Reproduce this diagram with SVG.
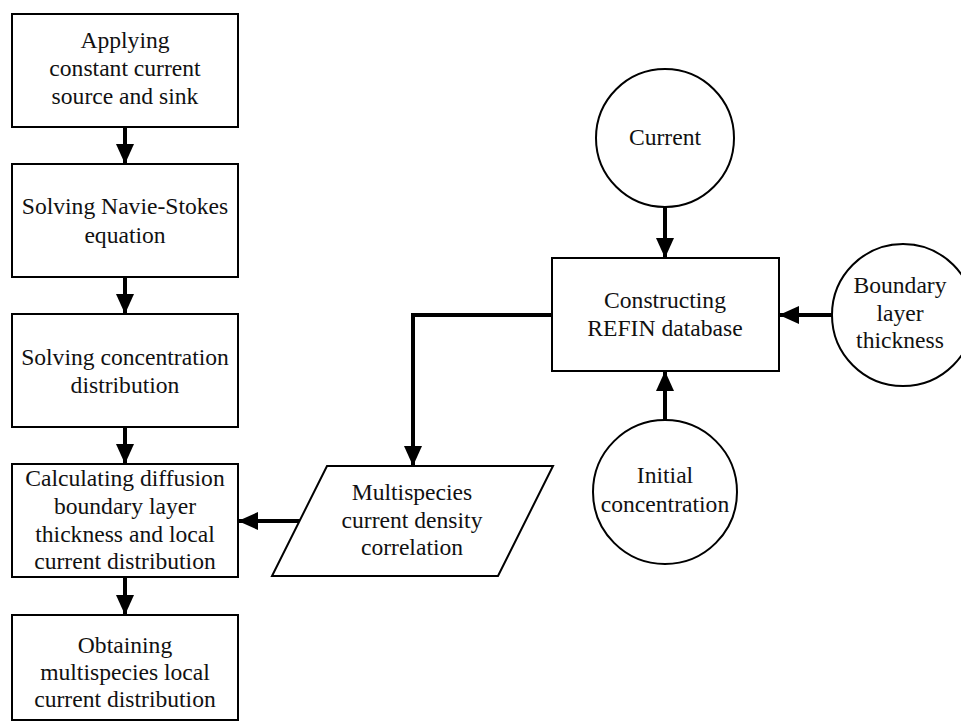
<svg xmlns="http://www.w3.org/2000/svg" width="961" height="722" viewBox="0 0 961 722">
<defs>
<marker id="ah" markerWidth="5" markerHeight="4.5" refX="10" refY="4.5" orient="auto" markerUnits="strokeWidth" viewBox="0 0 10 9">
<path d="M0,0 L10,4.5 L0,9 Z" fill="#000"/>
</marker>
<style>
.box{fill:#fff;stroke:#000;stroke-width:2}
.t{font-size:23.6px;fill:#111;text-anchor:middle}
.c{fill:none;stroke:#000;stroke-width:4}
</style>
</defs>
<rect width="961" height="722" fill="#fff"/>
<g id="connectors">
<line class="c" x1="125" y1="127" x2="125" y2="164" marker-end="url(#ah)"/>
<line class="c" x1="125" y1="277" x2="125" y2="314" marker-end="url(#ah)"/>
<line class="c" x1="125" y1="427" x2="125" y2="464" marker-end="url(#ah)"/>
<line class="c" x1="125" y1="577" x2="125" y2="615" marker-end="url(#ah)"/>
<line class="c" x1="665" y1="207" x2="665" y2="258" marker-end="url(#ah)"/>
<line class="c" x1="665" y1="420" x2="665" y2="371" marker-end="url(#ah)"/>
<line class="c" x1="832" y1="315" x2="779" y2="315" marker-end="url(#ah)"/>
<polyline class="c" points="552,315 413,315 413,466" marker-end="url(#ah)"/>
<line class="c" x1="300" y1="521" x2="238" y2="521" marker-end="url(#ah)"/>
</g>
<g font-family="'Liberation Serif', 'Times New Roman', 'DejaVu Serif', serif">
<g id="n1"><rect class="box" x="12" y="14" width="226" height="113"/>
<text class="t" x="125" y="48">Applying</text><text class="t" x="125" y="76">constant current</text><text class="t" x="125" y="104">source and sink</text></g>
<g id="n2"><rect class="box" x="12" y="164" width="226" height="113"/>
<text class="t" x="125" y="214">Solving Navie-Stokes</text><text class="t" x="125" y="243">equation</text></g>
<g id="n3"><rect class="box" x="12" y="314" width="226" height="113"/>
<text class="t" x="125" y="365">Solving concentration</text><text class="t" x="125" y="393">distribution</text></g>
<g id="n4"><rect class="box" x="12" y="464" width="226" height="113"/>
<text class="t" x="125" y="486">Calculating diffusion</text><text class="t" x="125" y="514">boundary layer</text><text class="t" x="125" y="542">thickness and local</text><text class="t" x="125" y="569">current distribution</text></g>
<g id="n5"><rect class="box" x="12" y="615" width="226" height="105"/>
<text class="t" x="125" y="653">Obtaining</text><text class="t" x="125" y="680">multispecies local</text><text class="t" x="125" y="707">current distribution</text></g>
<g id="n6"><polygon class="box" points="327,466 553,466 498,576 272,576"/>
<text class="t" x="412" y="500">Multispecies</text><text class="t" x="412" y="528">current density</text><text class="t" x="412" y="555">correlation</text></g>
<g id="n7"><rect class="box" x="552" y="258" width="227" height="113"/>
<text class="t" x="665" y="308">Constructing</text><text class="t" x="665" y="336">REFIN database</text></g>
<g id="n8"><circle class="box" cx="665" cy="138" r="69"/>
<text class="t" x="665" y="145">Current</text></g>
<g id="n9"><circle class="box" cx="903" cy="315" r="71"/>
<text class="t" x="900" y="293">Boundary</text><text class="t" x="900" y="321">layer</text><text class="t" x="900" y="348">thickness</text></g>
<g id="n10"><circle class="box" cx="665" cy="492" r="72"/>
<text class="t" x="665" y="483">Initial</text><text class="t" x="665" y="512">concentration</text></g>
</g>
</svg>
